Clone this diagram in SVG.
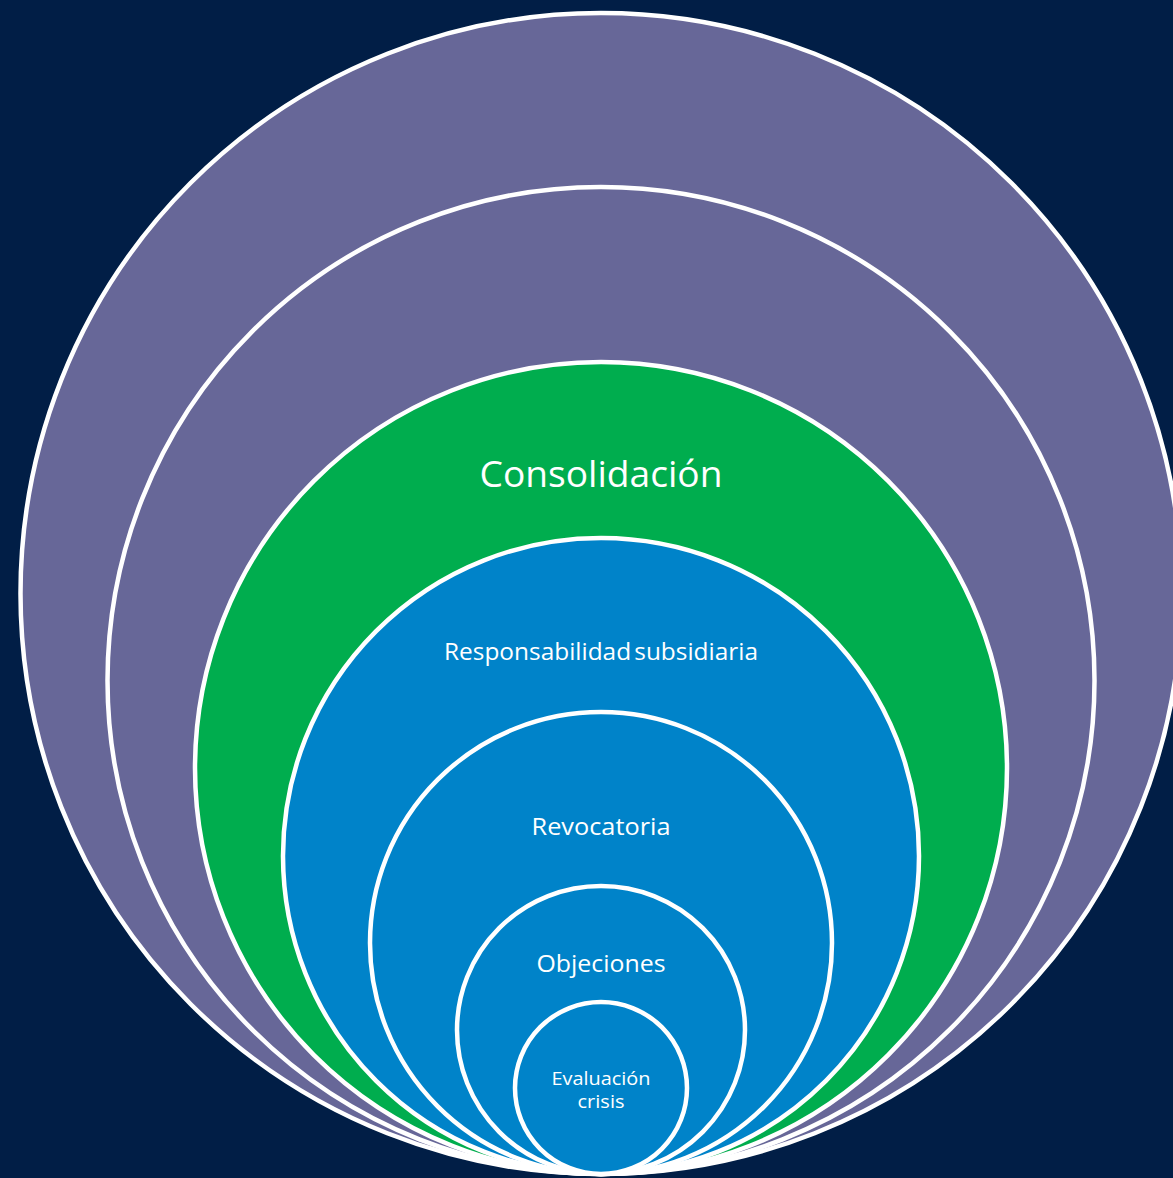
<svg xmlns="http://www.w3.org/2000/svg" width="1173" height="1178" viewBox="0 0 1173 1178">
<style>
.ring{stroke:#ffffff;stroke-width:4.5}
.p{fill:#676798}.g{fill:#00AD4E}.b{fill:#0083C9}
text{font-family:"Open Sans","Liberation Sans",sans-serif;fill:#ffffff;text-anchor:middle}
</style>
<rect width="1173" height="1178" fill="#011E46"/>
<g id="ring1"><circle class="ring p" cx="601" cy="593.5" r="580.5"/></g>
<g id="ring2"><circle class="ring p" cx="601" cy="680.5" r="493.5"/></g>
<g id="ring3"><circle class="ring g" cx="601" cy="768" r="406"/><text x="601" y="487" font-size="36" textLength="243" lengthAdjust="spacingAndGlyphs">Consolidación</text></g>
<g id="ring4"><circle class="ring b" cx="601" cy="856" r="318"/><text x="601" y="660" font-size="23" word-spacing="-3" textLength="314" lengthAdjust="spacingAndGlyphs">Responsabilidad subsidiaria</text></g>
<g id="ring5"><circle class="ring b" cx="601" cy="943" r="231"/><text x="601" y="835" font-size="23" textLength="139" lengthAdjust="spacingAndGlyphs">Revocatoria</text></g>
<g id="ring6"><circle class="ring b" cx="601" cy="1030" r="144"/><text x="601" y="972" font-size="23" textLength="129" lengthAdjust="spacingAndGlyphs">Objeciones</text></g>
<g id="ring7"><circle class="ring b" cx="601" cy="1088" r="86"/><text x="601" y="1085" font-size="18" textLength="99" lengthAdjust="spacingAndGlyphs">Evaluación</text><text x="601" y="1108" font-size="18" textLength="47" lengthAdjust="spacingAndGlyphs">crisis</text></g>
<g id="connectors"/>
</svg>
